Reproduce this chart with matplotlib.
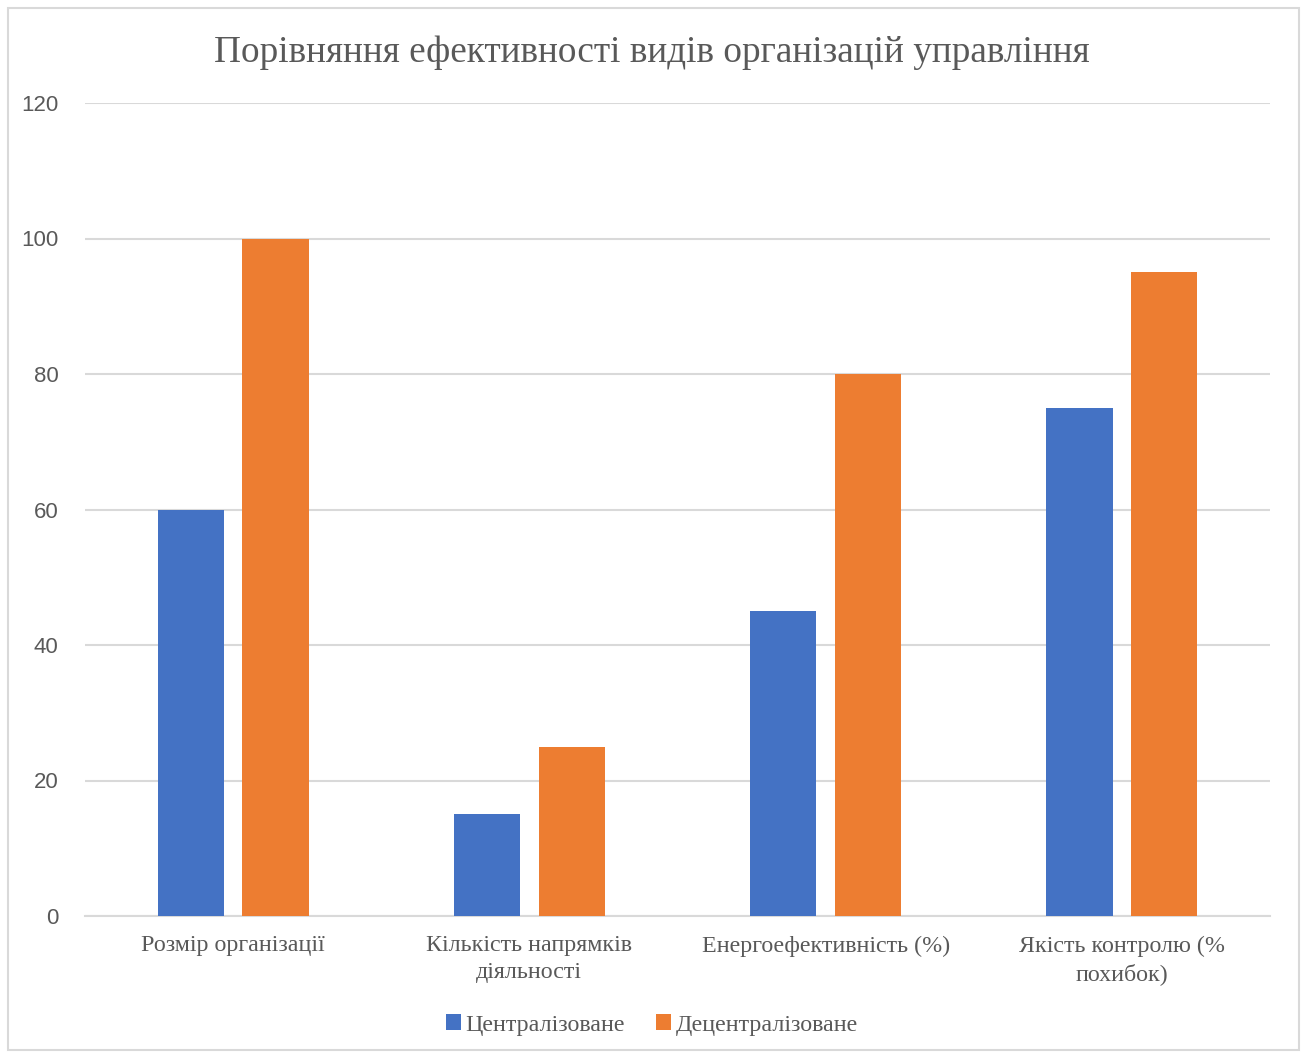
"""Grouped bar chart comparing centralized and decentralized management."""
import matplotlib.pyplot as plt
import numpy as np
from matplotlib.patches import Rectangle

categories = [
    'Розмір організації',
    'Кількість напрямків\nдіяльності',
    'Енергоефективність (%)',
    'Якість контролю (%\nпохибок)',
]
centralized = [60, 15, 45, 75]
decentralized = [100, 25, 80, 95]
series_names = ['Централізоване', 'Децентралізоване']
yticks = [0, 20, 40, 60, 80, 100, 120]

BLUE = '#4472C4'
ORANGE = '#ED7D31'
GREY_TEXT = '#595959'
GRID = '#D9D9D9'
SERIF = 'Liberation Serif'
SANS = 'Liberation Sans'


def main():
    fig = plt.figure(figsize=(13.04, 10.54), dpi=100)
    ax = fig.add_axes([85 / 1304, 1 - 916 / 1054, (1270 - 85) / 1304, (916 - 103) / 1054])

    x = np.arange(len(categories))
    width = 0.224
    offset = 0.143
    ax.bar(x - offset, centralized, width, color=BLUE, label=series_names[0], zorder=3)
    ax.bar(x + offset, decentralized, width, color=ORANGE, label=series_names[1], zorder=3)

    ax.set_xlim(-0.5, len(categories) - 0.5)
    ax.set_ylim(0, 120)
    ax.set_yticks(yticks)
    ax.set_yticklabels([str(v) for v in yticks], family=SANS, fontsize=16, color=GREY_TEXT)
    ax.set_xticks(x)
    ax.set_xticklabels(categories, family=SERIF, fontsize=17.3, color=GREY_TEXT,
                       linespacing=1.35)
    ax.tick_params(axis='y', length=0, pad=19)
    ax.tick_params(axis='x', length=0, pad=14)

    ax.grid(axis='y', color=GRID, linewidth=1.5, zorder=0)
    for side in ['top', 'right', 'left']:
        ax.spines[side].set_visible(False)
    ax.spines['bottom'].set_color(GRID)
    ax.spines['bottom'].set_linewidth(1.5)

    fig.text(0.5, 1 - 53 / 1054, 'Порівняння ефективності видів організацій управління',
             ha='center', va='center', family=SERIF, fontsize=26.8, color=GREY_TEXT)

    leg = fig.legend(loc='center', bbox_to_anchor=(0.5, 1 - 1025 / 1054), ncol=2,
                     frameon=False, handlelength=0.6, handleheight=0.6,
                     handletextpad=0.2, columnspacing=1.3,
                     prop={'family': SERIF, 'size': 17.3})
    for text in leg.get_texts():
        text.set_color(GREY_TEXT)

    # Light chart border
    fig.patches.append(Rectangle((8 / 1304, 4 / 1054), 1291 / 1304, 1042 / 1054,
                                 transform=fig.transFigure, fill=False,
                                 edgecolor=GRID, linewidth=1.5))

    fig.savefig('out.png', dpi=100)


if __name__ == '__main__':
    main()
